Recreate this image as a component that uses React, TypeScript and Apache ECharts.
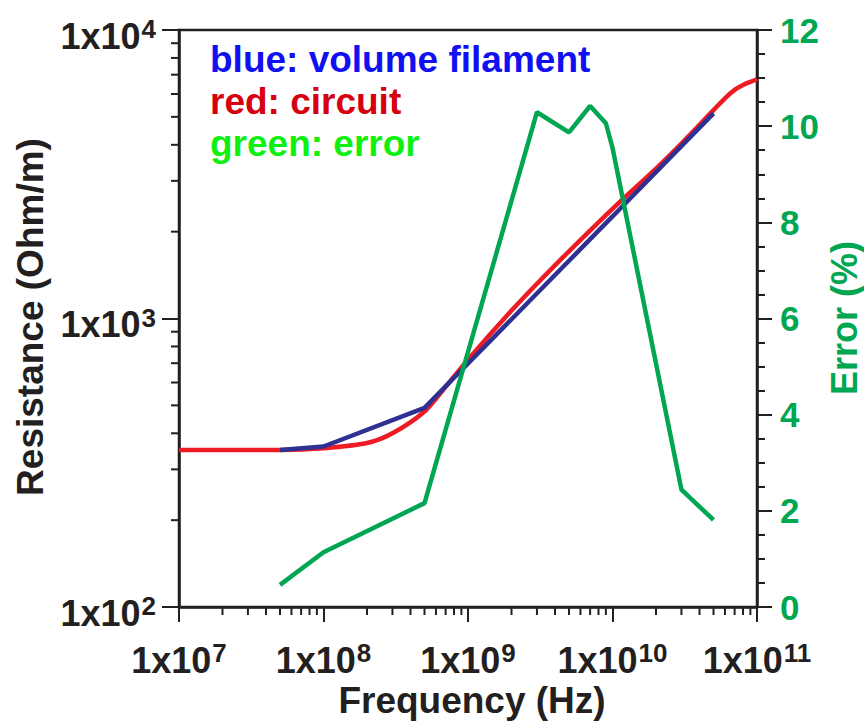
import React, { useEffect, useRef } from "react";
import * as echarts from "echarts";

// ---- data ----
const FREQ_RED = [1e7, 3e7, 5e7, 1e8, 2e8, 3e8, 5e8, 7e8, 1e9, 2e9, 3e9, 5e9, 1e10, 2e10, 3e10, 5e10, 6e10, 7e10, 8e10, 9e10, 1e11];
const R_RED = [350, 350, 350, 355, 370, 400, 476, 580, 720, 1065, 1320, 1710, 2400, 3310, 4040, 5275, 5800, 6200, 6450, 6610, 6750];

const FREQ_BLUE = [5e7, 1e8, 5e8, 1e9, 5e9, 1e10, 5e10];
const R_BLUE = [350, 360, 490, 698, 1585, 2258, 5140];

const FREQ_GREEN = [5e7, 1e8, 5e8, 3e9, 5e9, 7e9, 9e9, 1e10, 3e10, 5e10];
const ERR_GREEN = [0.46, 1.14, 2.16, 10.29, 9.87, 10.42, 10.06, 9.55, 2.44, 1.81];

const X_MIN = 1e7;
const X_MAX = 1e11;
const Y_MIN = 100;
const Y_MAX = 10000;
const ERR_MIN = 0;
const ERR_MAX = 12;
const ERR_INTERVAL = 2;

const X_DECADES = [7, 8, 9, 10];
const Y_DECADES = [2, 3];
const MINOR_MULTS = [2, 3, 4, 5, 6, 7, 8, 9];

const LEGEND_LINES = [
  { text: "blue: volume filament", color: "#1010f0" },
  { text: "red: circuit", color: "#d7000f" },
  { text: "green: error", color: "#10f010" },
];

const X_TITLE = "Frequency (Hz)";
const Y_TITLE = "Resistance (Ohm/m)";
const Y2_TITLE = "Error (%)";

const INK = "#231f20";
const GREEN_AXIS = "#00a651";
const FONT = "Liberation Sans";

const X_MINOR = X_DECADES.flatMap((d) => MINOR_MULTS.map((m) => m * Math.pow(10, d)));
const Y_MINOR = Y_DECADES.flatMap((d) => MINOR_MULTS.map((m) => m * Math.pow(10, d)));

const zip = (a: number[], b: number[]) => a.map((v, i) => [v, b[i]]);

const powLabel = (v: number) => {
  const e = Math.round(Math.log10(v));
  return `{b|1x10}{s|${e}}`;
};

const richStyle = {
  b: { fontSize: 36, lineHeight: 40, fontWeight: "bold", fontFamily: FONT, color: INK },
  s: {
    fontSize: 26,
    lineHeight: 12,
    fontWeight: "bold",
    fontFamily: FONT,
    color: INK,
    verticalAlign: "top",
    padding: [0, 0, 0, 1],
  },
};

export default function App() {
  const ref = useRef<HTMLDivElement>(null);
  useEffect(() => {
    if (!ref.current) return;
    const chart = echarts.init(ref.current, null, { renderer: "svg" });
    const option: any = {
      animation: false,
      backgroundColor: "#ffffff",
      grid: {
        left: 179,
        right: 107,
        top: 30,
        bottom: 115,
        show: true,
        borderColor: INK,
        borderWidth: 2.5,
        backgroundColor: "transparent",
      },
      xAxis: {
        type: "log",
        logBase: 10,
        min: X_MIN,
        max: X_MAX,
        splitNumber: 4,
        axisLine: { show: true, lineStyle: { color: INK, width: 2.5 } },
        axisTick: { show: true, length: 15, inside: false, lineStyle: { color: INK, width: 2 } },
        splitLine: { show: false },
        axisLabel: {
          formatter: powLabel,
          rich: richStyle,
          margin: 33,
          showMinLabel: true,
          showMaxLabel: true,
        },
      },
      yAxis: [
        {
          type: "log",
          logBase: 10,
          min: Y_MIN,
          max: Y_MAX,
          axisLine: { show: true, lineStyle: { color: INK, width: 2.5 } },
          axisTick: { show: true, length: 17, inside: false, lineStyle: { color: INK, width: 2 } },
          splitLine: { show: false },
          axisLabel: {
            formatter: powLabel,
            rich: richStyle,
            margin: 23,
            padding: [12, 0, 0, 0],
            showMinLabel: true,
            showMaxLabel: true,
          },
        },
        {
          type: "value",
          position: "right",
          min: ERR_MIN,
          max: ERR_MAX,
          interval: ERR_INTERVAL,
          axisLine: { show: true, lineStyle: { color: INK, width: 2.5 } },
          axisTick: { show: true, length: 15, inside: false, lineStyle: { color: INK, width: 2 } },
          minorTick: { show: true, splitNumber: 4, length: 8, lineStyle: { color: INK, width: 2 } },
          splitLine: { show: false },
          minorSplitLine: { show: false },
          axisLabel: {
            color: GREEN_AXIS,
            fontSize: 35,
            fontWeight: "bold",
            fontFamily: FONT,
            margin: 23,
          },
        },
      ],
      series: [
        {
          type: "custom",
          name: "xminor",
          xAxisIndex: 0,
          yAxisIndex: 0,
          clip: false,
          silent: true,
          data: X_MINOR.map((v) => [v, Y_MIN]),
          renderItem: (params: any, api: any) => {
            const p = api.coord([api.value(0), api.value(1)]);
            return {
              type: "line",
              shape: { x1: p[0], y1: p[1], x2: p[0], y2: p[1] + 8 },
              style: { stroke: INK, lineWidth: 2 },
            };
          },
        },
        {
          type: "custom",
          name: "yminor",
          xAxisIndex: 0,
          yAxisIndex: 0,
          clip: false,
          silent: true,
          data: Y_MINOR.map((v) => [X_MIN, v]),
          renderItem: (params: any, api: any) => {
            const p = api.coord([api.value(0), api.value(1)]);
            return {
              type: "line",
              shape: { x1: p[0] - 8, y1: p[1], x2: p[0], y2: p[1] },
              style: { stroke: INK, lineWidth: 2 },
            };
          },
        },
        {
          type: "line",
          name: "circuit",
          yAxisIndex: 0,
          data: zip(FREQ_RED, R_RED),
          smooth: 0.3,
          showSymbol: false,
          lineStyle: { color: "#ed1c24", width: 4.5 },
          z: 3,
        },
        {
          type: "line",
          name: "volume filament",
          yAxisIndex: 0,
          data: zip(FREQ_BLUE, R_BLUE),
          showSymbol: false,
          lineStyle: { color: "#2e3192", width: 4.5 },
          z: 4,
        },
        {
          type: "line",
          name: "error",
          yAxisIndex: 1,
          data: zip(FREQ_GREEN, ERR_GREEN),
          showSymbol: false,
          lineStyle: { color: "#00a651", width: 4.5 },
          z: 5,
        },
      ],
      graphic: [
        ...LEGEND_LINES.map((l, i) => ({
          type: "text",
          left: 210,
          top: 41 + i * 42,
          style: {
            text: l.text,
            fill: l.color,
            font: `bold 37px "${FONT}"`,
          },
          z: 10,
        })),
        {
          type: "text",
          x: 472,
          y: 700,
          style: {
            text: X_TITLE,
            fill: INK,
            font: `bold 37px "${FONT}"`,
            align: "center",
            verticalAlign: "middle",
          },
        },
        {
          type: "text",
          x: 30,
          y: 317,
          rotation: Math.PI / 2,
          style: {
            text: Y_TITLE,
            fill: INK,
            font: `bold 37px "${FONT}"`,
            align: "center",
            verticalAlign: "middle",
          },
        },
        {
          type: "text",
          x: 844,
          y: 318,
          rotation: Math.PI / 2,
          style: {
            text: Y2_TITLE,
            fill: GREEN_AXIS,
            font: `bold 36px "${FONT}"`,
            align: "center",
            verticalAlign: "middle",
          },
        },
      ],
    };
    chart.setOption(option);
    return () => chart.dispose();
  }, []);
  return (
    <div
      ref={ref}
      style={{ position: "fixed", left: 0, top: 0, width: 864, height: 722, background: "#fff" }}
    />
  );
}
